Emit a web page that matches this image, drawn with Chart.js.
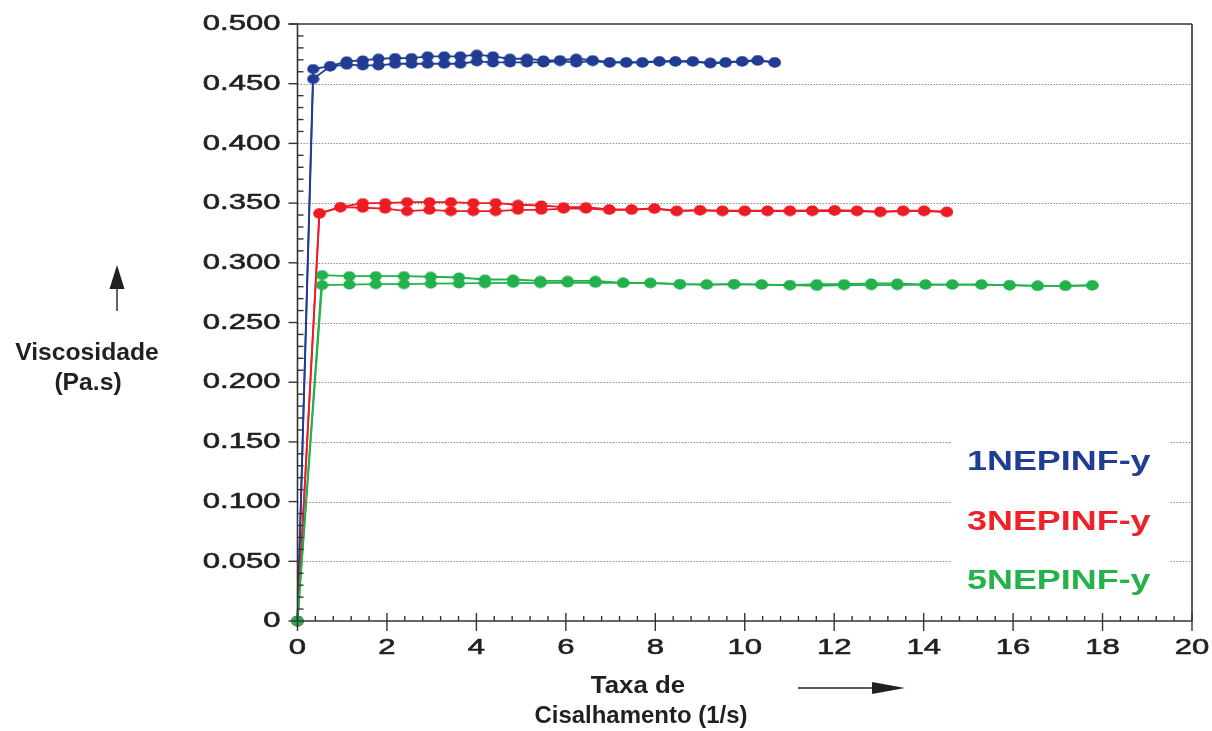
<!DOCTYPE html>
<html>
<head>
<meta charset="utf-8">
<script src="https://cdn.jsdelivr.net/npm/chart.js@4.4.1/dist/chart.umd.min.js"></script>
<style>
  html, body { margin: 0; padding: 0; background: #ffffff; }
  canvas { display: block; }
</style>
</head>
<body>
<canvas id="chart" width="1212" height="731"></canvas>
<script>
// Shear rate (1/s) and viscosity (Pa.s): increasing ("Up") and decreasing ("Down") sweeps
const rate1 = [0, 0.35, 0.73, 1.10, 1.46, 1.81, 2.18, 2.55, 2.91, 3.28, 3.64, 4.01, 4.37, 4.75, 5.13, 5.50, 5.87, 6.23, 6.60, 6.98, 7.35, 7.71, 8.09, 8.45, 8.84, 9.23, 9.57, 9.94, 10.29, 10.67];
const visc1Up = [0, 0.4539, 0.4645, 0.4659, 0.4653, 0.4653, 0.4667, 0.4667, 0.4667, 0.4667, 0.4667, 0.4687, 0.4678, 0.4678, 0.4678, 0.4678, 0.4690, 0.4678, 0.4690, 0.4676, 0.4676, 0.4676, 0.4685, 0.4685, 0.4685, 0.4671, 0.4676, 0.4685, 0.4693, 0.4676];
const visc1Down = [0, 0.4623, 0.4648, 0.4687, 0.4695, 0.4709, 0.4715, 0.4715, 0.4729, 0.4729, 0.4729, 0.4743, 0.4729, 0.4709, 0.4709, 0.4695, 0.4697, 0.4709, 0.4697, 0.4680, 0.4680, 0.4680, 0.4688, 0.4688, 0.4688, 0.4675, 0.4680, 0.4689, 0.4697, 0.4680];

const rate3 = [0, 0.49, 0.96, 1.46, 1.96, 2.45, 2.95, 3.43, 3.93, 4.43, 4.93, 5.45, 5.95, 6.45, 6.97, 7.47, 7.98, 8.48, 9.00, 9.50, 10.00, 10.51, 11.01, 11.51, 12.01, 12.51, 13.03, 13.54, 14.01, 14.52];
const visc3Up = [0, 0.3411, 0.3466, 0.3461, 0.3453, 0.3433, 0.3444, 0.3433, 0.3433, 0.3433, 0.3444, 0.3444, 0.3453, 0.3453, 0.3444, 0.3444, 0.3453, 0.3433, 0.3439, 0.3433, 0.3433, 0.3433, 0.3433, 0.3433, 0.3436, 0.3433, 0.3425, 0.3433, 0.3433, 0.3425];
const visc3Down = [0, 0.3415, 0.3466, 0.3500, 0.3500, 0.3508, 0.3508, 0.3508, 0.3500, 0.3500, 0.3486, 0.3480, 0.3466, 0.3466, 0.3447, 0.3447, 0.3455, 0.3436, 0.3441, 0.3437, 0.3437, 0.3437, 0.3437, 0.3439, 0.3441, 0.3437, 0.3429, 0.3437, 0.3437, 0.3428];

const rate5 = [0, 0.55, 1.16, 1.75, 2.38, 2.98, 3.61, 4.19, 4.82, 5.43, 6.04, 6.66, 7.28, 7.89, 8.55, 9.15, 9.76, 10.38, 11.01, 11.61, 12.22, 12.83, 13.41, 14.04, 14.64, 15.29, 15.92, 16.55, 17.17, 17.77];
const visc5Up = [0, 0.2813, 0.2818, 0.2821, 0.2821, 0.2825, 0.2827, 0.2829, 0.2832, 0.2830, 0.2834, 0.2832, 0.2832, 0.2830, 0.2821, 0.2818, 0.2821, 0.2818, 0.2813, 0.2806, 0.2813, 0.2813, 0.2813, 0.2818, 0.2818, 0.2818, 0.2813, 0.2807, 0.2807, 0.2810];
const visc5Down = [0, 0.2897, 0.2888, 0.2888, 0.2888, 0.2883, 0.2877, 0.2860, 0.2860, 0.2849, 0.2849, 0.2849, 0.2832, 0.2832, 0.2821, 0.2818, 0.2821, 0.2818, 0.2813, 0.2821, 0.2821, 0.2827, 0.2827, 0.2818, 0.2818, 0.2818, 0.2813, 0.2807, 0.2807, 0.2813];

const seriesNames = ['1NEPINF-y', '3NEPINF-y', '5NEPINF-y'];

// Axis ticks
const xTickValues = [0, 2, 4, 6, 8, 10, 12, 14, 16, 18, 20];
const xTickLabels = ['0', '2', '4', '6', '8', '10', '12', '14', '16', '18', '20'];
const yTickValues = [0, 0.05, 0.10, 0.15, 0.20, 0.25, 0.30, 0.35, 0.40, 0.45, 0.50];
const yTickLabels = ['0', '0.050', '0.100', '0.150', '0.200', '0.250', '0.300', '0.350', '0.400', '0.450', '0.500'];

const yTitleLines = ['Viscosidade', '(Pa.s)'];
const xTitleLines = ['Taxa de', 'Cisalhamento (1/s)'];

// ---- styles ----
const colors = ['#213c92', '#ed1c24', '#22b14c'];
const legendColors = ['#1f3d92', '#ee2228', '#26b24a'];
const inkColor = '#231f20';
const axisColor = '#333333';
const FONT = '"Liberation Sans", Arial, Helvetica, sans-serif';

function ovalDot(color) {
  const c = document.createElement('canvas');
  c.width = 13; c.height = 11;
  const g = c.getContext('2d');
  g.fillStyle = color;
  g.beginPath();
  g.ellipse(6.5, 5.5, 6.1, 5.1, 0, 0, Math.PI * 2);
  g.fill();
  return c;
}

function pairs(xs, ys) { return xs.map((x, i) => ({ x: x, y: ys[i] })); }

function sweep(label, xs, ys, idx) {
  return {
    label: label,
    data: pairs(xs, ys),
    showLine: true,
    borderColor: colors[idx],
    backgroundColor: colors[idx],
    borderWidth: 1.8,
    pointStyle: ovalDot(colors[idx]),
    pointRadius: 6,
    pointHoverRadius: 6,
    tension: 0,
    clip: false,
    order: idx === 2 ? 0 : (idx === 1 ? 1 : 2)
  };
}

function stretchedText(ctx, text, x, y, font, color, align, sx, weight) {
  ctx.save();
  ctx.font = font;
  ctx.fillStyle = color;
  ctx.textAlign = align;
  ctx.textBaseline = 'middle';
  ctx.translate(x, y);
  ctx.scale(sx, 1);
  ctx.fillText(text, 0, 0);
  if (weight) {
    ctx.strokeStyle = color;
    ctx.lineWidth = weight;
    ctx.lineJoin = 'round';
    ctx.strokeText(text, 0, 0);
  }
  ctx.restore();
}

function line(ctx, x1, y1, x2, y2) {
  ctx.beginPath();
  ctx.moveTo(x1, y1);
  ctx.lineTo(x2, y2);
  ctx.stroke();
}

const decor = {
  id: 'decor',
  beforeDatasetsDraw(chart) {
    const { ctx, chartArea: a, scales } = chart;
    const ys = scales.y;
    ctx.save();
    // dotted horizontal grid at major y ticks
    ctx.strokeStyle = '#8c8c8c';
    ctx.lineWidth = 1.2;
    ctx.setLineDash([1.5, 1.5]);
    yTickValues.forEach(v => {
      if (v <= ys.min || v >= ys.max) return;
      const py = Math.round(ys.getPixelForValue(v)) + 0.5;
      line(ctx, a.left, py, a.right, py);
    });
    ctx.setLineDash([]);
    // white panel behind the series names
    ctx.fillStyle = '#ffffff';
    ctx.fillRect(952, 425, 218, 180);
    ctx.restore();
  },
  afterDatasetsDraw(chart) {
    const { ctx, chartArea: a, scales } = chart;
    const xs = scales.x, ys = scales.y;
    ctx.save();
    ctx.strokeStyle = axisColor;
    ctx.lineWidth = 1.6;

    // frame
    line(ctx, a.left, a.top, a.left, a.bottom);
    line(ctx, a.left, a.bottom, a.right, a.bottom);
    line(ctx, a.left - 9, a.top, a.right, a.top);
    line(ctx, a.right, a.top, a.right, a.bottom);

    // y ticks: major outward, minor inward
    ctx.lineWidth = 1.4;
    yTickValues.forEach(v => {
      const py = ys.getPixelForValue(v);
      line(ctx, a.left - 9, py, a.left, py);
    });
    for (let k = 1; k < 50; k++) {
      if (k % 5 === 0) continue;
      const py = ys.getPixelForValue(k * 0.01);
      line(ctx, a.left, py, a.left + 6, py);
    }
    // x ticks: major crossing the axis, minor inward
    xTickValues.forEach(v => {
      const px = xs.getPixelForValue(v);
      line(ctx, px, a.bottom - 8, px, a.bottom + 10);
    });
    for (let k = 1; k < 50; k++) {
      if (k % 5 === 0) continue;
      const px = xs.getPixelForValue(k * 0.4);
      line(ctx, px, a.bottom - 5, px, a.bottom);
    }

    // tick labels
    const tickFont = '22.5px ' + FONT;
    yTickValues.forEach((v, i) => {
      stretchedText(ctx, yTickLabels[i], a.left - 17, ys.getPixelForValue(v), tickFont, inkColor, 'right', 1.38, 0.6);
    });
    xTickValues.forEach((v, i) => {
      stretchedText(ctx, xTickLabels[i], xs.getPixelForValue(v), a.bottom + 27, tickFont, inkColor, 'center', 1.38, 0.6);
    });

    // axis titles
    const titleFont = 'bold 23.5px ' + FONT;
    stretchedText(ctx, yTitleLines[0], 87, 354, titleFont, inkColor, 'center', 1.05);
    stretchedText(ctx, yTitleLines[1], 88, 384, titleFont, inkColor, 'center', 1.05);
    stretchedText(ctx, xTitleLines[0], 638, 687, titleFont, inkColor, 'center', 1.1);
    stretchedText(ctx, xTitleLines[1], 641, 717, titleFont, inkColor, 'center', 1.02);

    // direction arrows
    ctx.strokeStyle = inkColor;
    ctx.fillStyle = inkColor;
    ctx.lineWidth = 1.4;
    line(ctx, 117, 311, 117, 286);
    ctx.beginPath();
    ctx.moveTo(117, 265); ctx.lineTo(124.5, 289); ctx.lineTo(109.5, 289); ctx.closePath();
    ctx.fill();
    line(ctx, 798, 688, 876, 688);
    ctx.beginPath();
    ctx.moveTo(905, 688); ctx.lineTo(872, 682); ctx.lineTo(872, 694); ctx.closePath();
    ctx.fill();

    // series names
    const legendFont = 'bold 27px ' + FONT;
    const legendY = [463, 523, 582];
    seriesNames.forEach((name, i) => {
      stretchedText(ctx, name, 967, legendY[i], legendFont, legendColors[i], 'left', 1.33);
    });
    ctx.restore();
  }
};

new Chart(document.getElementById('chart'), {
  type: 'scatter',
  data: {
    datasets: [
      sweep(seriesNames[0] + ' up', rate1, visc1Up, 0),
      sweep(seriesNames[0] + ' down', rate1, visc1Down, 0),
      sweep(seriesNames[1] + ' up', rate3, visc3Up, 1),
      sweep(seriesNames[1] + ' down', rate3, visc3Down, 1),
      sweep(seriesNames[2] + ' up', rate5, visc5Up, 2),
      sweep(seriesNames[2] + ' down', rate5, visc5Down, 2)
    ]
  },
  options: {
    responsive: false,
    animation: false,
    events: [],
    layout: { padding: { left: 0, top: 24, right: 20, bottom: 0 } },
    plugins: { legend: { display: false }, tooltip: { enabled: false } },
    scales: {
      x: {
        type: 'linear', min: 0, max: 20,
        ticks: { display: false, stepSize: 2 },
        grid: { display: false },
        border: { display: false },
        afterFit(s) { s.height = 110; }
      },
      y: {
        type: 'linear', min: 0, max: 0.5,
        ticks: { display: false, stepSize: 0.05 },
        grid: { display: false },
        border: { display: false },
        afterFit(s) { s.width = 297.5; }
      }
    }
  },
  plugins: [decor]
});
</script>
</body>
</html>
